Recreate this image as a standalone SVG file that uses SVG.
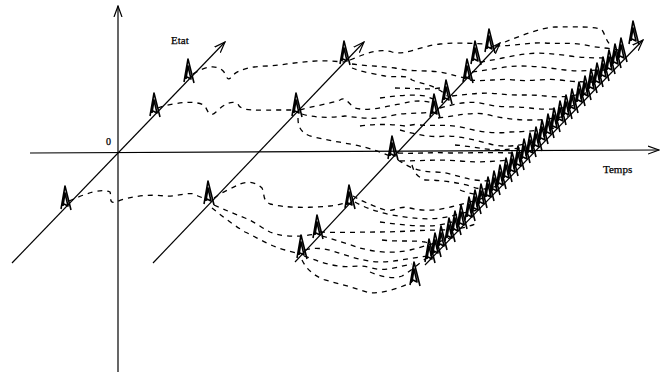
<svg xmlns="http://www.w3.org/2000/svg" xmlns:xlink="http://www.w3.org/1999/xlink" width="671" height="374" viewBox="0 0 671 374">
<style>
.ax{fill:none;stroke:#000;stroke-width:1.2}
.tr{fill:none;stroke:#000;stroke-width:1.3;stroke-dasharray:5 5;stroke-linecap:butt}
.pt{fill:none;stroke:#000;stroke-width:1.6;stroke-linejoin:round}
.lb{font-family:"Liberation Serif",serif;fill:#000;stroke:#000;stroke-width:0.25}
</style>
<defs>
<marker id="ah" viewBox="0 0 12 10" refX="11" refY="5" markerWidth="12" markerHeight="10" markerUnits="userSpaceOnUse" orient="auto">
<path d="M0,1 L11,5 L0,9" fill="none" stroke="#000" stroke-width="1.2"/>
</marker>
<path id="p" class="pt" d="M-5,2 L-1,-21 L5,3 M-3,-1 L-1,-14 L2,-1 L-2,-3"/>
</defs>
<rect width="671" height="374" fill="#fff"/>
<g id="axes">
<line class="ax" x1="118" y1="372" x2="118" y2="6" marker-end="url(#ah)"/>
<line class="ax" x1="30" y1="153" x2="659" y2="150" marker-end="url(#ah)"/>
</g>
<g id="state-lines">
<line class="ax" x1="12" y1="263" x2="225" y2="42" marker-end="url(#ah)"/>
<line class="ax" x1="153" y1="263" x2="364" y2="42" marker-end="url(#ah)"/>
<line class="ax" x1="295" y1="262" x2="500" y2="43" marker-end="url(#ah)"/>
<line class="ax" x1="425" y1="265" x2="643" y2="40" marker-end="url(#ah)"/>
</g>
<g id="connectors">
<path class="tr" d="M193,74 C205,66 218,64 224,72 C227,78 228,82 232,76 C240,68 255,66 270,66 C290,64 310,60 330,61 L345,62"/>
<path class="tr" d="M158,108 C175,102 198,100 205,106 C208,112 210,118 216,112 C224,104 232,100 238,104 C240,112 260,110 280,110 L296,110"/>
<path class="tr" d="M69,201 C85,194 100,188 110,192 C112,198 108,204 116,202 C130,196 150,194 165,196 C180,197 190,190 198,196 L208,200"/>
<path class="tr" d="M350,60 C365,54 378,48 392,52 C405,56 420,46 440,44 C460,42 475,44 488,44"/>
<path class="tr" d="M352,64 C366,66 380,66 395,68 C410,72 425,70 440,72 C452,74 460,78 468,78"/>
<path class="tr" d="M352,68 C362,72 375,74 385,76 C398,78 405,74 412,80 C420,84 435,84 447,96"/>
<path class="tr" d="M300,110 C312,106 330,104 340,100 C346,96 348,104 355,108 C370,112 385,106 400,104 C415,100 425,100 435,104"/>
<path class="tr" d="M302,114 C315,118 330,118 345,116 C360,118 375,120 390,116 C405,112 420,114 433,112"/>
<path class="tr" d="M298,118 C298,126 300,132 310,136 C325,140 340,142 355,145 C370,148 380,152 390,156"/>
<path class="tr" d="M214,198 C222,192 232,188 240,184 C250,180 258,184 262,188 C265,194 262,200 270,204 C285,208 310,208 330,206 C340,205 345,202 349,204"/>
<path class="tr" d="M214,205 C225,210 235,214 245,218 C255,222 262,228 270,232 C280,236 292,238 316,234"/>
<path class="tr" d="M212,208 C222,216 232,224 245,232 C258,238 270,246 285,250 L300,254"/>
<path class="tr" d="M505,42 C520,36 540,28 555,27 C575,27 595,26 602,30 C606,36 606,42 612,46"/>
<path class="tr" d="M495,46 C515,46 530,42 545,43 C560,44 575,42 590,46 C600,48 610,48 618,50"/>
<path class="tr" d="M480,62 C495,60 510,56 525,54 C540,52 555,54 570,56 C585,58 598,58 612,58"/>
<path class="tr" d="M472,72 C490,70 505,66 520,66 C535,66 550,68 565,70 C580,72 590,70 604,70"/>
<path class="tr" d="M470,80 C485,82 500,78 515,80 C530,82 545,78 560,80 C575,82 585,82 598,82"/>
<path class="tr" d="M452,96 C470,94 485,92 500,94 C515,96 530,94 545,96 C560,98 575,96 590,92"/>
<path class="tr" d="M440,108 C455,104 470,100 485,104 C500,108 515,106 530,108 C545,110 560,110 578,104"/>
<path class="tr" d="M438,118 C455,116 470,112 485,114 C500,118 515,120 530,120 C545,120 555,118 568,116"/>
<path class="tr" d="M420,125 C435,126 450,124 465,128 C480,132 495,134 510,132 C525,132 540,130 555,128"/>
<path class="tr" d="M400,130 C415,134 430,138 445,136 C460,136 475,140 490,144 C505,148 520,146 540,140"/>
<path class="tr" d="M398,153 C415,154 430,152 450,153 C470,153 490,152 510,153 L528,152"/>
<path class="tr" d="M400,161 C420,161 440,159 460,161 C480,163 495,161 512,160"/>
<path class="tr" d="M398,160 C410,168 420,172 435,172 C450,172 460,178 475,180 C490,182 500,180 505,176"/>
<path class="tr" d="M412,165 C414,172 416,176 425,180 C440,180 455,182 470,186 C480,190 488,190 496,186"/>
<path class="tr" d="M353,196 C360,200 370,205 385,210 C395,212 400,205 410,208 C425,212 440,210 455,206 C470,202 480,200 490,195"/>
<path class="tr" d="M355,202 C365,208 378,212 392,215 C410,218 425,220 440,218 C455,216 465,212 478,210"/>
<path class="tr" d="M320,232 C340,233 360,232 380,232 C400,232 420,230 440,230 C455,230 465,228 475,224"/>
<path class="tr" d="M322,236 C335,240 348,244 360,248 C375,252 392,254 410,250 C425,246 440,242 455,236"/>
<path class="tr" d="M305,250 C318,246 330,250 342,254 C355,258 368,262 380,262 C395,262 410,258 428,256"/>
<path class="tr" d="M304,256 C315,260 325,264 338,266 C350,268 360,264 372,268 C385,272 400,266 412,264"/>
<path class="tr" d="M302,260 C306,268 312,275 325,280 C340,284 355,288 370,293 C385,293 400,288 412,282"/>
<path class="tr" d="M380,222 C395,224 410,226 425,226 C438,226 445,224 452,222"/>
<path class="tr" d="M382,240 C398,242 412,240 425,242 C432,244 436,244 442,244"/>
<path class="tr" d="M370,272 C380,276 392,280 402,276 C410,272 420,262 435,252"/>
<path class="tr" d="M395,88 C410,88 425,90 440,88"/>
<path class="tr" d="M380,98 C395,96 410,94 425,96 L436,100"/>
<path class="tr" d="M360,126 C375,124 390,124 405,126 L418,124"/>
<path class="tr" d="M455,145 C470,146 485,150 500,150 L520,148"/>
<path class="tr" d="M460,190 C470,194 480,196 490,194"/>
</g>
<g id="particles">
<use href="#p" x="66" y="207"/>
<use href="#p" x="155" y="114"/>
<use href="#p" x="189" y="80"/>
<use href="#p" x="209" y="202"/>
<use href="#p" x="297" y="114"/>
<use href="#p" x="345" y="62"/>
<use href="#p" x="302" y="256"/>
<use href="#p" x="318" y="236"/>
<use href="#p" x="350" y="206"/>
<use href="#p" x="393" y="157"/>
<use href="#p" x="435" y="115"/>
<use href="#p" x="447" y="101"/>
<use href="#p" x="468" y="80"/>
<use href="#p" x="476" y="62"/>
<use href="#p" x="490" y="50"/>
<use href="#p" x="415" y="283"/>
<use href="#p" x="430" y="260"/>
<use href="#p" x="436" y="254"/>
<use href="#p" x="442" y="247"/>
<use href="#p" x="450" y="239"/>
<use href="#p" x="456" y="232"/>
<use href="#p" x="462" y="226"/>
<use href="#p" x="470" y="218"/>
<use href="#p" x="476" y="211"/>
<use href="#p" x="482" y="205"/>
<use href="#p" x="489" y="198"/>
<use href="#p" x="495" y="192"/>
<use href="#p" x="501" y="186"/>
<use href="#p" x="507" y="179"/>
<use href="#p" x="513" y="173"/>
<use href="#p" x="519" y="167"/>
<use href="#p" x="525" y="160"/>
<use href="#p" x="531" y="154"/>
<use href="#p" x="537" y="148"/>
<use href="#p" x="543" y="141"/>
<use href="#p" x="549" y="135"/>
<use href="#p" x="555" y="129"/>
<use href="#p" x="561" y="122"/>
<use href="#p" x="567" y="116"/>
<use href="#p" x="573" y="110"/>
<use href="#p" x="580" y="103"/>
<use href="#p" x="586" y="97"/>
<use href="#p" x="592" y="90"/>
<use href="#p" x="598" y="84"/>
<use href="#p" x="604" y="78"/>
<use href="#p" x="610" y="71"/>
<use href="#p" x="616" y="65"/>
<use href="#p" x="622" y="59"/>
<use href="#p" x="634" y="42"/>
</g>
<g id="labels">
<text class="lb" x="171" y="44" font-size="11">Etat</text>
<text class="lb" x="106" y="145" font-size="10">0</text>
<text class="lb" x="603" y="173" font-size="11">Temps</text>
</g>
</svg>
